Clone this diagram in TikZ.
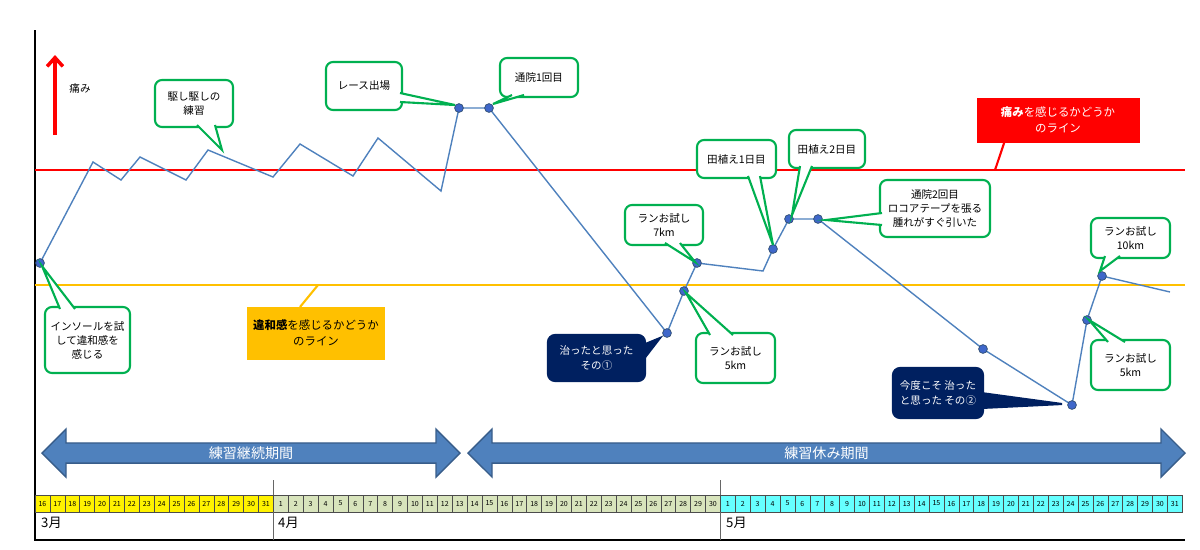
\documentclass[tikz,border=0pt]{standalone}
\usepackage{fontspec}
\setmainfont{Noto Sans CJK JP}
\usetikzlibrary{fit,shapes.arrows,arrows.meta}
\definecolor{cgreen}{HTML}{00B050}
\definecolor{navy}{HTML}{002060}
\definecolor{pblue}{HTML}{4F81BD}
\definecolor{dblue}{HTML}{385D8A}
\definecolor{orng}{HTML}{FFC000}
\definecolor{aprg}{HTML}{D8E4BC}
\definecolor{maycy}{HTML}{66FFFF}
\tikzset{
 gbox/.style={draw=cgreen,fill=white,line width=1.2pt},
 nbox/.style={draw=navy,fill=navy,line width=1.2pt},
 ctext/.style={font=\fontsize{6}{8}\selectfont,align=center},
 dot/.style={circle,fill=pblue!80!blue,draw=pblue!60!black,inner sep=0pt,minimum size=5pt},
 dline/.style={pblue,line width=0.8pt},
 cell/.style={draw=black!70,line width=0.3pt,minimum width=14.9*0.02cm,minimum height=17*0.02cm,inner sep=0pt,font=\fontsize{4}{4}\selectfont},
 bigarr/.style={double arrow,draw=dblue,fill=pblue,line width=0.8pt,minimum height=#1,minimum width=48*0.02cm,double arrow head extend=10*0.02cm,inner sep=0pt,text=white,font=\fontsize{8}{8}\selectfont}
}
\def\navyname{navy}
% #1 name #2 box style #3 corner #4 corner #5 base1 #6 tip #7 base2 #8 fill #9 text
\newcommand\mycall[9]{%
 \coordinate (#1-a) at (#3); \coordinate (#1-b) at (#4);
 \node[fit=(#1-a)(#1-b),inner sep=0pt,rounded corners=4pt,#2] (#1) {};
 \coordinate (#1-tip) at (#6);
 \fill[#8] (#5) -- (#1-tip) -- (#7) -- cycle;
 \draw[#2,fill=none] (#5) -- (#1-tip) -- (#7);
 \def\tmpc{#8}%
 \ifx\tmpc\navyname \def\tcol{white}\else\def\tcol{black}\fi
 \node[ctext,text=\tcol] (#1-t) at (#1) {#9};
}
\begin{document}
\begin{tikzpicture}[x=0.02cm,y=-0.02cm]
\useasboundingbox (0,0) rectangle (1200,549);
% frame
\draw[line width=1.2pt] (35,30) coordinate (ax0) -- (35,540) coordinate (ax1) -- (1185,540) coordinate (ax2);
% lines
\draw[red,line width=1.6pt] (35,170) coordinate (r0) -- (1185,170) coordinate (r1);
\draw[orng,line width=1.6pt] (35,285) coordinate (o0) -- (1185,285) coordinate (o1);
% pain arrow
\draw[red,line width=2pt,-{Straight Barb[length=5pt,width=9pt]}] (55,135) coordinate (pa0) -- (55,55) coordinate (pa1);
\node[font=\fontsize{6}{6}\selectfont] (pain) at (80,88) {痛み};
% red label
\coordinate (rl) at (995,170);
\node[fill=red,minimum width=163*0.02cm,minimum height=45*0.02cm,align=center,text=white,font=\fontsize{6.5}{9}\selectfont] (redl) at (1058,120) {\textbf{痛み}を感じるかどうか\\のライン};
\draw[red,line width=1.2pt] (redl.south west) ++(28*0.02cm,0) -- (rl);
% orange label
\coordinate (ol) at (318,285);
\node[fill=orng,minimum width=130*0.02cm,minimum height=53*0.02cm,align=center,font=\fontsize{6.5}{9}\selectfont] (orl) at (316,333) {\textbf{違和感}を感じるかどうか\\のライン};
\draw[orng,line width=1.2pt] (300,307) -- (ol);
% data line
\foreach \n/\p in {p1/{40,263},p2/{93,162},p3/{121,180},p4/{140,157},p5/{186,180},p6/{208,150},p7/{273,177},p8/{300,144},p9/{353,176},p10/{378,138},p11/{441,191},p12/{459,108},p13/{489,108},p14/{667,333},p15/{684,291},p16/{697,263},p17/{763,271},p18/{773,249},p19/{789,219},p20/{818,219},p21/{983,349},p22/{1072,405},p23/{1087,320},p24/{1102,276},p25/{1170,292}}
 \coordinate (\n) at (\p);
\draw[dline] (p1)--(p2)--(p3)--(p4)--(p5)--(p6)--(p7)--(p8)--(p9)--(p10)--(p11)--(p12)--(p13)--(p14)--(p15)--(p16)--(p17)--(p18)--(p19)--(p20)--(p21)--(p22)--(p23)--(p24)--(p25);
\foreach \n in {p1,p12,p13,p14,p15,p16,p18,p19,p20,p21,p22,p23,p24}
 \node[dot] (d\n) at (\n) {};
% callouts
\mycall{c1}{gbox}{155,80}{233,127}{197,125}{222,150}{215,125}{white}{駆し駆しの\\練習}
\mycall{c2}{gbox}{326,62}{402,110}{400,93}{455,105}{400,102}{white}{レース出場}
\mycall{c3}{gbox}{500,58}{578,97}{512,95}{493,104}{524,95}{white}{通院1回目}
\mycall{c4}{gbox}{697,140}{776,178}{748,176}{773,245}{760,176}{white}{田植え1日目}
\mycall{c5}{gbox}{789,130}{865,168}{800,166}{792,215}{812,166}{white}{田植え2日目}
\mycall{c6}{gbox}{880,180}{990,237}{882,213}{826,220}{882,225}{white}{通院2回目\\ロコアテープを張る\\腫れがすぐ引いた}
\mycall{c7}{gbox}{625,205}{703,245}{665,243}{695,262}{680,243}{white}{ランお試し\\7km}
\mycall{c8}{gbox}{45,307}{130,373}{60,309}{42,266}{75,309}{white}{インソールを試\\して違和感を\\感じる}
\mycall{c9}{gbox}{696,333}{775,383}{710,335}{686,293}{733,335}{white}{ランお試し\\5km}
\mycall{c10}{gbox}{1091,218}{1170,258}{1105,256}{1100,271}{1120,256}{white}{ランお試し\\10km}
\mycall{c11}{gbox}{1091,340}{1170,390}{1108,342}{1089,320}{1125,342}{white}{ランお試し\\5km}
\mycall{c12}{nbox}{548,335}{645,381}{643,345}{660,338}{643,360}{navy}{治ったと思った\\その①}
\mycall{c13}{nbox}{893,368}{983,418}{981,393}{1062,404}{981,408}{navy}{今度こそ 治った\\と思った その②}
% big arrows
\node[bigarr=418*0.02cm] (a1) at (251,453) {練習継続期間};
\node[bigarr=717*0.02cm] (a2) at (826.5,453) {練習休み期間};
% date cells
\foreach \i in {0,...,76}{
 \pgfmathtruncatemacro{\d}{\i<16 ? 16+\i : (\i<46 ? \i-15 : \i-45)}
 \pgfmathsetmacro{\xx}{35+\i*14.9+7.45}
 \ifnum\i<16 \def\cc{yellow}\else\ifnum\i<46 \def\cc{aprg}\else\def\cc{maycy}\fi\fi
 \node[cell,fill=\cc] (day\i) at (\xx,503.5) {\d};
}
\draw[black!60,line width=0.6pt] (day16.south west) -- +(0,-28*0.02cm) coordinate (s1);
\draw[black!60,line width=0.6pt] (day16.north west) -- +(0,15*0.02cm);
\draw[black!60,line width=0.6pt] (day46.south west) -- +(0,-28*0.02cm) coordinate (s2);
\draw[black!60,line width=0.6pt] (day46.north west) -- +(0,15*0.02cm);
\node[anchor=west,font=\fontsize{7.5}{8}\selectfont] (m3) at (35,523) {3月};
\node[anchor=west,font=\fontsize{7.5}{8}\selectfont] (m4) at (272,523) {4月};
\node[anchor=west,font=\fontsize{7.5}{8}\selectfont] (m5) at (720,523) {5月};
\end{tikzpicture}
\end{document}
